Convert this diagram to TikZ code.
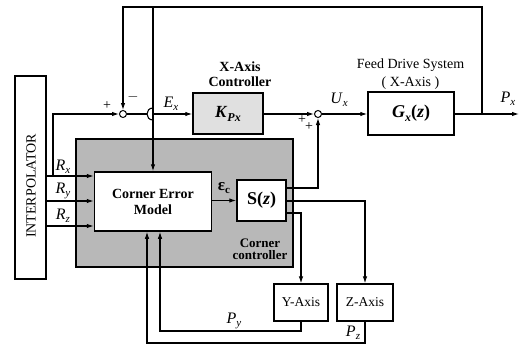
\documentclass[tikz,border=0pt]{standalone}
\usepackage{fontspec}
\setmainfont{Liberation Serif}
\usetikzlibrary{arrows.meta,calc}
\newcommand{\vsub}[2]{\textit{#1}\raisebox{-0.45ex}{\fontsize{11}{11}\selectfont\textit{#2}}}
\begin{document}
\begin{tikzpicture}[x=1pt,y=-1pt, line width=1.1pt,
  >={Latex[length=7pt,width=4.5pt]},
  blk/.style={draw, line width=1.5pt, inner sep=0pt, align=center},
  sumnode/.style={draw, circle, line width=1pt, minimum size=7pt, inner sep=0pt, fill=white},
  lbl/.style={inner sep=0pt, font=\fontsize{16}{16}\selectfont},
  pm/.style={inner sep=0pt, font=\fontsize{14}{14}\selectfont},
  bl/.style={inner sep=0pt, align=center, font=\fontsize{14}{15}\selectfont\bfseries}]
\useasboundingbox (0,0) rectangle (525,345);
% shaded corner controller region
\node[draw, line width=1.2pt, fill=black!28, minimum width=217pt, minimum height=128pt] (cc) at (184.5,203) {};
% blocks
\node[blk, minimum width=31pt, minimum height=203pt] (interp) at (30.5,177.5) {};
\node[rotate=90, font=\fontsize{14}{14}\selectfont] at (31,186) {INTERPOLATOR};
\node[blk, fill=white, minimum width=117pt, minimum height=59pt, font=\fontsize{14}{16}\selectfont\bfseries] (cem) at (153,201.5) {Corner Error\\Model};
\node[blk, fill=white, minimum width=49pt, minimum height=41pt, font=\fontsize{18}{18}\selectfont\bfseries] (sz) at (261.5,200.5) {S(\textit{z})};
\node[blk, fill=black!12, minimum width=70pt, minimum height=41pt, font=\fontsize{17}{17}\selectfont\bfseries] (kpx) at (228,113.5) {\textit{K}\raisebox{-0.5ex}{\fontsize{12}{12}\selectfont\textit{Px}}};
\node[blk, minimum width=86pt, minimum height=43pt, font=\fontsize{18}{18}\selectfont\bfseries] (gx) at (411,113.5) {\textit{G}\raisebox{-0.5ex}{\fontsize{12}{12}\selectfont\textit{x}}(\textit{z})};
\node[blk, line width=1.2pt, minimum width=54pt, minimum height=37pt, font=\fontsize{13.5}{14}\selectfont] (yax) at (301,302.5) {Y-Axis};
\node[blk, line width=1.2pt, minimum width=56pt, minimum height=37pt, font=\fontsize{13.5}{14}\selectfont] (zax) at (365,302.5) {Z-Axis};
% summing junctions
\node[sumnode] (sum1) at (123,114) {};
\node[sumnode] (sum2) at (318,114) {};
% coordinates
\coordinate (yx) at (0,176);
\coordinate (yy) at (0,201);
\coordinate (yz) at (0,226);
\coordinate (rb) at (53,176);
\coordinate (pxb) at (482,114);
\coordinate (pxend) at (519,114);
\coordinate (topR) at (482,7);
\coordinate (o1) at (0,188);
\coordinate (o2) at (0,201);
\coordinate (o3) at (0,213);
\coordinate (ylow) at (160,331);
\coordinate (zlow) at (147,343);
% reference inputs
\draw[->] (interp.east |- yx) -- (cem.west |- yx);
\draw[->] (interp.east |- yy) -- (cem.west |- yy);
\draw[->] (interp.east |- yz) -- (cem.west |- yz);
\draw[->] (rb) |- (sum1.west);
% X-axis loop
\draw (sum1.east) -- (147,114);
\draw (153,108) .. controls (145,108) and (145,120) .. (153,120);
\draw[->] (153,114) -- (kpx.west |- sum1);
\draw[->] (kpx.east |- sum2) -- (sum2.west);
\draw[->] (sum2.east) -- (gx.west |- sum2);
\draw[->] (gx.east |- sum2) -- (pxend);
\draw[->] (pxb) -- (topR) -| (sum1.north);
\draw[->] (cem.north |- topR) -- (cem.north);
% corner controller
\draw[->] (cem.east |- sz) -- (sz.west);
\draw[->] (sz.east |- o1) -| (sum2.south);
\draw[->] (sz.east |- o2) -| (zax.north);
\draw[->] (sz.east |- o3) -| (yax.north);
\draw[->] (yax.south) |- (ylow) -- (ylow |- cem.south);
\draw[->] (zax.south) |- (zlow) -- (zlow |- cem.south);
% labels
\node[pm] at (107,106) {+};
\node[pm] at (133,97) {$-$};
\node[lbl] at (171,104) {\vsub{E}{x}};
\node[bl] at (240,74) {X-Axis\\Controller};
\node[lbl] at (339,100) {\vsub{U}{x}};
\node[pm] at (302,120) {+};
\node[pm] at (309,127) {+};
\node[inner sep=0pt, align=center, font=\fontsize{14}{18}\selectfont] at (410.5,74) {Feed Drive System\\( X-Axis )};
\node[lbl] at (508,99) {\vsub{P}{x}};
\node[lbl] at (63,167) {\vsub{R}{x}};
\node[lbl] at (63,191) {\vsub{R}{y}};
\node[lbl] at (63,216) {\vsub{R}{z}};
\node[lbl, font=\fontsize{17}{17}\selectfont\bfseries] at (224,188) {ε\raisebox{-0.3ex}{\fontsize{11}{11}\selectfont c}};
\node[bl, font=\fontsize{13}{12}\selectfont\bfseries] at (260,249) {Corner\\controller};
\node[lbl] at (234,321) {\vsub{P}{y}};
\node[lbl] at (353,333) {\vsub{P}{z}};
\end{tikzpicture}
\end{document}
